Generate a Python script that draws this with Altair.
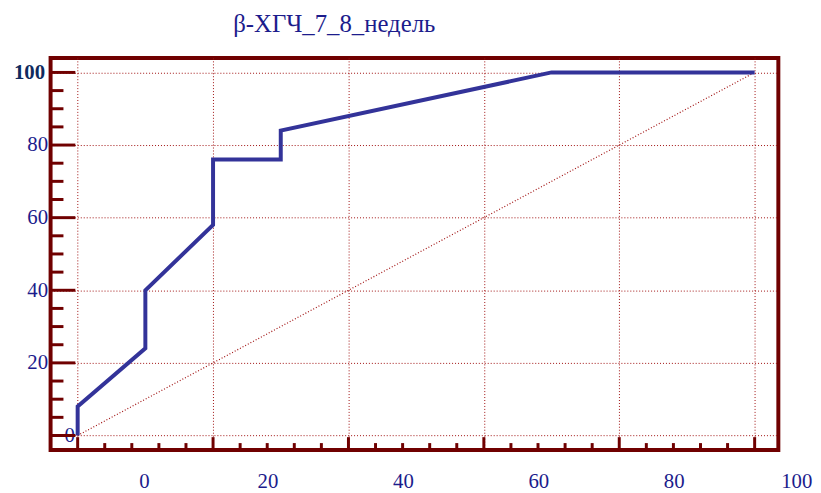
import altair as alt
import pandas as pd

title_text = "β-ХГЧ_7_8_недель"

# ROC curve
fpr = [0, 0, 10, 10, 20, 20, 30, 30, 70, 100]
tpr = [0, 8, 24, 40, 58, 76, 76, 84, 100, 100]

# reference diagonal
diag_x = [0, 100]
diag_y = [0, 100]

# ticks
x_major = [0, 20, 40, 60, 80, 100]
y_major = [0, 20, 40, 60, 80, 100]
x_minor = [4, 8, 12, 16, 24, 28, 32, 36, 44, 48, 52, 56, 64, 68, 72, 76, 84, 88, 92, 96]
y_minor = [5, 10, 15, 25, 30, 35, 45, 50, 55, 65, 70, 75, 85, 90, 95]

W, H = 735, 396
FRAME = "#700000"
GRID = "#a01010"
NAVY = "#1c1c8c"
FONT = "Liberation Serif"

curve_df = pd.DataFrame({"x": fpr, "y": tpr, "i": list(range(len(fpr)))})
diag_df = pd.DataFrame({"x": diag_x, "y": diag_y})
xmaj_df = pd.DataFrame({"v": x_major})
xmin_df = pd.DataFrame({"v": x_minor})
ymaj_df = pd.DataFrame({"v": y_major})
ymin_df = pd.DataFrame({"v": y_minor})

xs = alt.Scale(domain=[-4, 103.5], nice=False, zero=False)
ys = alt.Scale(domain=[-4, 104], nice=False, zero=False)

x_axis = alt.Axis(
    values=x_major, grid=True, ticks=False, domain=False, title=None,
    labelFont=FONT, labelFontSize=21, labelColor=NAVY, labelPadding=21,
    labelFlush=False, labelOverlap=False,
    labelOffset={"condition": [{"test": "datum.value == 0", "value": 67},
                               {"test": "datum.value == 100", "value": 42}],
                 "value": 55},
    gridColor=GRID, gridDash=[1, 2], gridWidth=1,
)
y_axis = alt.Axis(
    values=y_major, grid=True, ticks=False, domain=False, title=None,
    labelFont=FONT, labelFontSize=21, labelOverlap=False,
    labelColor={"condition": {"test": "datum.value == 100", "value": "#0f2a5e"}, "value": NAVY},
    labelFontWeight={"condition": {"test": "datum.value == 100", "value": "bold"}, "value": "normal"},
    labelPadding={"condition": [{"test": "datum.value == 0", "value": -24},
                                {"test": "datum.value == 100", "value": 6}],
                  "value": 3},
    gridColor=GRID, gridDash=[1, 2], gridWidth=1,
)

curve = alt.Chart(curve_df).mark_line(color="#333399", strokeWidth=4).encode(
    x=alt.X("x:Q", scale=xs, axis=x_axis),
    y=alt.Y("y:Q", scale=ys, axis=y_axis),
    order="i:Q",
)

diag = alt.Chart(diag_df).mark_line(color=GRID, strokeWidth=1.2, strokeDash=[1, 2]).encode(
    x=alt.X("x:Q", scale=xs, axis=x_axis),
    y=alt.Y("y:Q", scale=ys, axis=y_axis),
)

ymaj = alt.Chart(ymaj_df).mark_rule(color=FRAME, strokeWidth=3).encode(
    y=alt.Y("v:Q", scale=ys, axis=y_axis), x=alt.value(0), x2=alt.value(25)
)
ymin = alt.Chart(ymin_df).mark_rule(color=FRAME, strokeWidth=3).encode(
    y=alt.Y("v:Q", scale=ys, axis=y_axis), x=alt.value(0), x2=alt.value(13)
)
xmaj = alt.Chart(xmaj_df).mark_rule(color=FRAME, strokeWidth=3).encode(
    x=alt.X("v:Q", scale=xs, axis=x_axis), y=alt.value(H), y2=alt.value(H - 13)
)
xmin = alt.Chart(xmin_df).mark_rule(color=FRAME, strokeWidth=3).encode(
    x=alt.X("v:Q", scale=xs, axis=x_axis), y=alt.value(H), y2=alt.value(H - 7)
)

chart = alt.layer(diag, curve, ymaj, ymin, xmaj, xmin).properties(
    width=W, height=H,
    background="white",
    title=alt.TitleParams(title_text, font=FONT, fontSize=25, fontWeight="normal",
                          color=NAVY, anchor="middle", frame="group", dx=-81, offset=21),
    padding={"left": 43, "top": 48, "right": 35, "bottom": 41},
    autosize="none",
).configure_view(stroke=FRAME, strokeWidth=4)

chart.save("out.html", embed_options={"renderer": "svg", "actions": False})
